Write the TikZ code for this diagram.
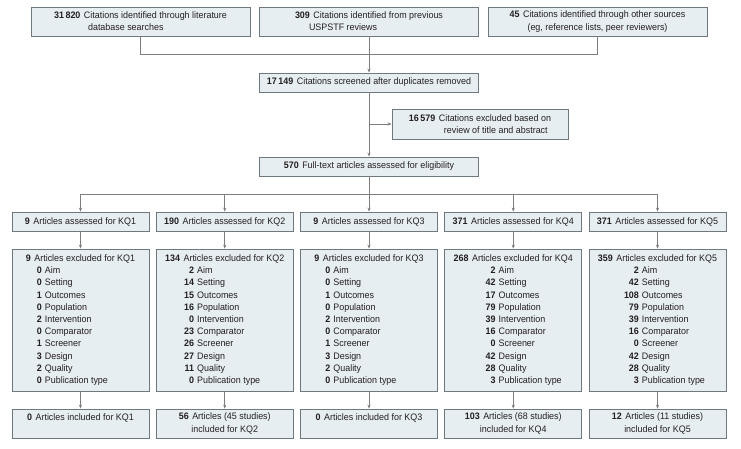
\documentclass[tikz,border=0pt]{standalone}
\usepackage{fontspec}
\setmainfont{Liberation Sans}[FakeStretch=0.95]
\usetikzlibrary{arrows.meta}
\definecolor{boxfill}{RGB}{231,238,242}
\definecolor{boxline}{RGB}{110,120,126}
\definecolor{conn}{RGB}{125,125,125}
\definecolor{txt}{RGB}{35,31,32}
\newcommand\nb[1]{\textbf{#1}\hspace{3.5pt}}
\newcommand\subr[3]{\hspace*{#1pt}\llap{\textbf{#2}}\hspace{3pt}#3}
\begin{document}
\begin{tikzpicture}[x=1pt,y=-1pt,
  box/.style={draw=boxline, fill=boxfill, line width=0.8pt, inner sep=0pt, text=txt,
    font=\fontsize{9.4}{12.2}\selectfont},
  line/.style={draw=conn, line width=0.8pt},
  arr/.style={line, -{Stealth[length=4pt,width=3.2pt]}}]
\useasboundingbox (0,0) rectangle (741,449);

% top row
\node[box, minimum width=219pt, minimum height=29pt, align=left] (t1) at (140.5,21.5)
  {\nb{31\,820}Citations identified through literature\\ \hspace*{34pt}database searches};
\node[box, minimum width=219pt, minimum height=29pt, align=left] (t2) at (369,21.5)
  {\nb{309}Citations identified from previous\\ \hspace*{14pt}USPSTF reviews};
\node[box, minimum width=219pt, minimum height=29pt, align=center] (t3) at (597.5,21.5)
  {\nb{45}Citations identified through other sources\\ (eg, reference lists, peer reviewers)};

\coordinate (m1) at (140.5,54);
\coordinate (m2) at (369,54);
\coordinate (m3) at (597.5,54);
\draw[line] (t1.south) -- (m1) -- (m3) -- (t3.south);
\draw[line] (t2.south) -- (m2);

\node[box, minimum width=219pt, minimum height=19pt] (s1) at (369,82.5)
  {\nb{17\,149}Citations screened after duplicates removed};
\draw[arr] (m2) -- (s1.north);

\node[box, minimum width=176pt, minimum height=30pt, align=left] (x0) at (480,124)
  {\nb{16\,579}Citations excluded based on\\ \hspace*{35pt}review of title and abstract};

\node[box, minimum width=219pt, minimum height=19pt] (ft) at (369,166.5)
  {\nb{570}Full-text articles assessed for eligibility};
\draw[arr] (s1.south) -- (ft.north);
\coordinate (b1) at (369,124);
\draw[arr] (b1) -- (x0.west);

% KQ row
\node[box, minimum width=137pt, minimum height=19pt] (a1) at (80.5,221.5) {\nb{9}Articles assessed for KQ1};
\node[box, minimum width=137pt, minimum height=19pt] (a2) at (224.75,221.5) {\nb{190}Articles assessed for KQ2};
\node[box, minimum width=137pt, minimum height=19pt] (a3) at (369,221.5) {\nb{9}Articles assessed for KQ3};
\node[box, minimum width=137pt, minimum height=19pt] (a4) at (513.25,221.5) {\nb{371}Articles assessed for KQ4};
\node[box, minimum width=137pt, minimum height=19pt] (a5) at (657.5,221.5) {\nb{371}Articles assessed for KQ5};

\coordinate (h) at (369,194);
\draw[line] (ft.south) -- (h);
\draw[line] (a1.north |- h) -- (a5.north |- h);
\foreach \n in {a1,a2,a3,a4,a5} \draw[arr] (\n.north |- h) -- (\n.north);

% excluded
\node[box, minimum width=137pt, minimum height=142pt, align=left] (e1) at (80.5,320)
  {\nb{9}Articles excluded for KQ1\\
   \subr{16}{0}{Aim}\\ \subr{16}{0}{Setting}\\ \subr{16}{1}{Outcomes}\\ \subr{16}{0}{Population}\\
   \subr{16}{2}{Intervention}\\ \subr{16}{0}{Comparator}\\ \subr{16}{1}{Screener}\\
   \subr{16}{3}{Design}\\ \subr{16}{2}{Quality}\\ \subr{16}{0}{Publication type}};
\node[box, minimum width=137pt, minimum height=142pt, align=left] (e2) at (224.75,320)
  {\nb{134}Articles excluded for KQ2\\
   \subr{29}{2}{Aim}\\ \subr{29}{14}{Setting}\\ \subr{29}{15}{Outcomes}\\ \subr{29}{16}{Population}\\
   \subr{29}{0}{Intervention}\\ \subr{29}{23}{Comparator}\\ \subr{29}{26}{Screener}\\
   \subr{29}{27}{Design}\\ \subr{29}{11}{Quality}\\ \subr{29}{0}{Publication type}};
\node[box, minimum width=137pt, minimum height=142pt, align=left] (e3) at (369,320)
  {\nb{9}Articles excluded for KQ3\\
   \subr{16}{0}{Aim}\\ \subr{16}{0}{Setting}\\ \subr{16}{1}{Outcomes}\\ \subr{16}{0}{Population}\\
   \subr{16}{2}{Intervention}\\ \subr{16}{0}{Comparator}\\ \subr{16}{1}{Screener}\\
   \subr{16}{3}{Design}\\ \subr{16}{2}{Quality}\\ \subr{16}{0}{Publication type}};
\node[box, minimum width=137pt, minimum height=142pt, align=left] (e4) at (513.25,320)
  {\nb{268}Articles excluded for KQ4\\
   \subr{42}{2}{Aim}\\ \subr{42}{42}{Setting}\\ \subr{42}{17}{Outcomes}\\ \subr{42}{79}{Population}\\
   \subr{42}{39}{Intervention}\\ \subr{42}{16}{Comparator}\\ \subr{42}{0}{Screener}\\
   \subr{42}{42}{Design}\\ \subr{42}{28}{Quality}\\ \subr{42}{3}{Publication type}};
\node[box, minimum width=137pt, minimum height=142pt, align=left] (e5) at (657.5,320)
  {\nb{359}Articles excluded for KQ5\\
   \subr{41}{2}{Aim}\\ \subr{41}{42}{Setting}\\ \subr{41}{108}{Outcomes}\\ \subr{41}{79}{Population}\\
   \subr{41}{39}{Intervention}\\ \subr{41}{16}{Comparator}\\ \subr{41}{0}{Screener}\\
   \subr{41}{42}{Design}\\ \subr{41}{28}{Quality}\\ \subr{41}{3}{Publication type}};

% included
\node[box, minimum width=137pt, minimum height=29pt, align=center] (i1) at (80.5,423.5)
  {\nb{0}Articles included for KQ1\\ \mbox{}};
\node[box, minimum width=137pt, minimum height=29pt, align=center] (i2) at (224.75,423.5)
  {\nb{56}Articles (45 studies)\\ included for KQ2};
\node[box, minimum width=137pt, minimum height=29pt, align=center] (i3) at (369,423.5)
  {\nb{0}Articles included for KQ3\\ \mbox{}};
\node[box, minimum width=137pt, minimum height=29pt, align=center] (i4) at (513.25,423.5)
  {\nb{103}Articles (68 studies)\\ included for KQ4};
\node[box, minimum width=137pt, minimum height=29pt, align=center] (i5) at (657.5,423.5)
  {\nb{12}Articles (11 studies)\\ included for KQ5};

\foreach \k in {1,...,5} {
  \draw[arr] (a\k.south) -- (e\k.north);
  \draw[arr] (e\k.south) -- (i\k.north);
}
\end{tikzpicture}
\end{document}
